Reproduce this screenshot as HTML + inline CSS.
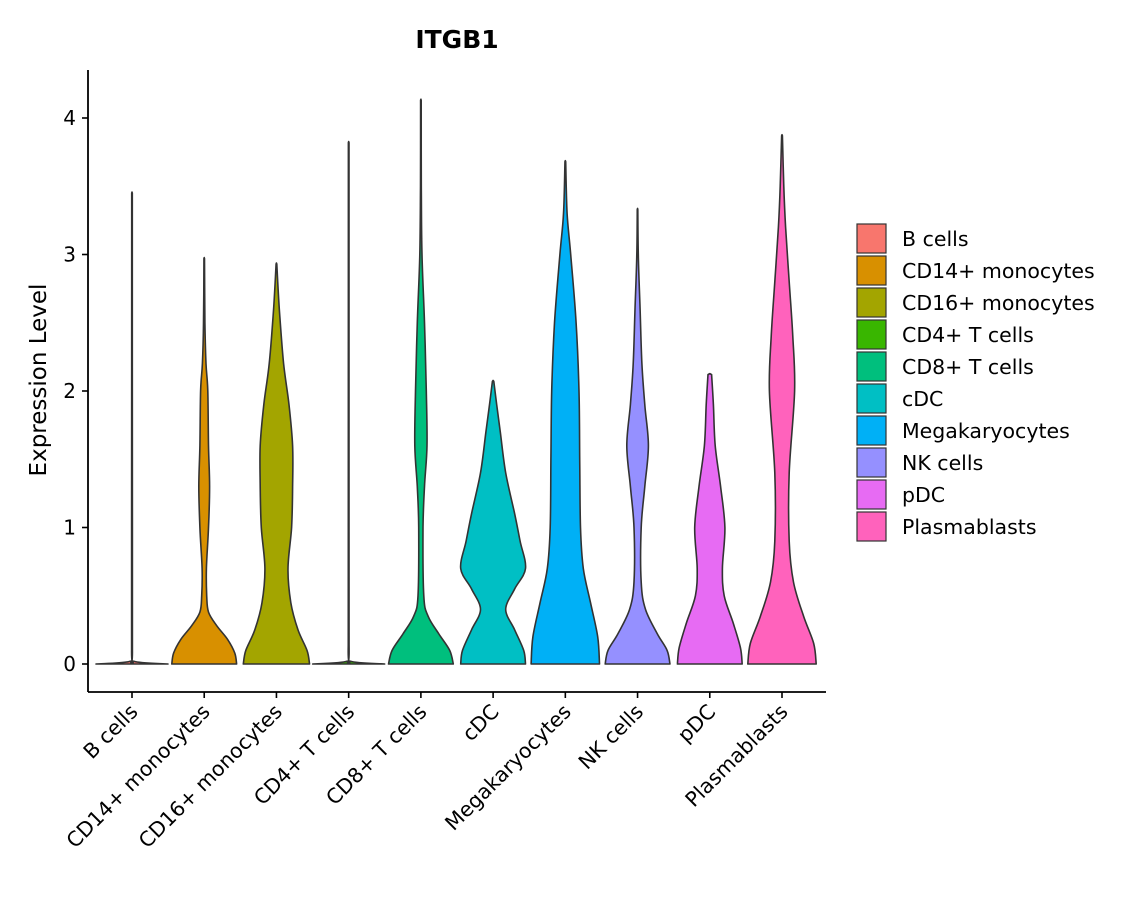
<!DOCTYPE html>
<html><head><meta charset="utf-8"><style>
html,body{margin:0;padding:0;background:#fff}
svg text{font-family:"DejaVu Sans","Liberation Sans",sans-serif;fill:#000}
</style></head><body>
<svg id="chart" width="1140" height="900" xmlns="http://www.w3.org/2000/svg">
<text x="457" y="48" text-anchor="middle" font-size="25" font-weight="bold">ITGB1</text>
<text transform="translate(46,380) rotate(-90)" text-anchor="middle" font-size="23">Expression Level</text>
<g id="plot"></g>
<g id="legend"></g>
</svg>
<script>
const categories=["B cells","CD14+ monocytes","CD16+ monocytes","CD4+ T cells","CD8+ T cells","cDC","Megakaryocytes","NK cells","pDC","Plasmablasts"];
const colors=["#F8766D","#D89000","#A3A500","#39B600","#00BF7D","#00BFC4","#00B0F6","#9590FF","#E76BF3","#FF62BC"];
const yTicks=[0,1,2,3,4];
const densB=[[0,1],[0.02,0.05],[0.1,0.012],[1,0.01],[3.45,0.008]];
const dens14=[[0,0.9],[0.08,0.85],[0.18,0.65],[0.28,0.35],[0.38,0.12],[0.5,0.07],[0.7,0.06],[1.0,0.12],[1.3,0.15],[1.6,0.12],[2.0,0.1],[2.2,0.05],[2.5,0.02],[2.97,0.008]];
const dens16=[[0,0.92],[0.1,0.85],[0.25,0.6],[0.45,0.4],[0.7,0.32],[1.0,0.42],[1.3,0.45],[1.6,0.45],[1.9,0.35],[2.2,0.2],[2.6,0.08],[2.93,0.01]];
const densCD4=[[0,1],[0.02,0.05],[0.1,0.012],[1,0.01],[3.82,0.008]];
const densCD8=[[0,0.9],[0.1,0.8],[0.22,0.5],[0.35,0.2],[0.5,0.08],[1.0,0.06],[1.3,0.1],[1.6,0.17],[2.0,0.15],[2.5,0.1],[3.0,0.03],[3.5,0.012],[4.13,0.008]];
const densCDC=[[0,0.9],[0.1,0.85],[0.25,0.6],[0.4,0.35],[0.55,0.6],[0.7,0.9],[0.9,0.75],[1.1,0.6],[1.4,0.35],[1.7,0.2],[1.9,0.1],[2.07,0.02]];
const densMK=[[0,0.95],[0.2,0.9],[0.45,0.7],[0.7,0.5],[1.0,0.42],[1.5,0.4],[2.0,0.38],[2.5,0.3],[3.0,0.15],[3.3,0.05],[3.68,0.01]];
const densNK=[[0,0.9],[0.1,0.82],[0.22,0.55],[0.4,0.22],[0.6,0.1],[1.0,0.1],[1.3,0.2],[1.6,0.3],[1.9,0.2],[2.2,0.12],[2.6,0.07],[3.0,0.02],[3.33,0.008]];
const densPDC=[[0,0.9],[0.12,0.85],[0.3,0.65],[0.5,0.4],[0.7,0.35],[1.0,0.42],[1.3,0.3],[1.6,0.15],[1.9,0.1],[2.12,0.05]];
const densPB=[[0,0.95],[0.15,0.88],[0.35,0.6],[0.6,0.32],[0.9,0.2],[1.4,0.2],[2.0,0.35],[2.4,0.3],[2.8,0.2],[3.2,0.1],[3.5,0.05],[3.87,0.01]];
const densities=[densB,dens14,dens16,densCD4,densCD8,densCDC,densMK,densNK,densPDC,densPB];

const NS="http://www.w3.org/2000/svg";
const X0=88,X1=826,Y0=664,PXU=136.5,halfMax=36;
function yScale(v){return Y0-v*PXU;}
function xScale(i){return 132+i*(782-132)/9;}
const plot=document.getElementById('plot');
function mk(t,a,p){const e=document.createElementNS(NS,t);for(const k in a)e.setAttribute(k,a[k]);(p||plot).appendChild(e);return e;}

function smooth(pts){let d="";for(let i=0;i<pts.length-1;i++){const p0=pts[Math.max(0,i-1)],p1=pts[i],p2=pts[i+1],p3=pts[Math.min(pts.length-1,i+2)];
const c1=[p1[0]+(p2[0]-p0[0])/6,p1[1]+(p2[1]-p0[1])/6],c2=[p2[0]-(p3[0]-p1[0])/6,p2[1]-(p3[1]-p1[1])/6];
d+=` C${c1[0].toFixed(1)},${c1[1].toFixed(1)} ${c2[0].toFixed(1)},${c2[1].toFixed(1)} ${p2[0].toFixed(1)},${p2[1].toFixed(1)}`;}return d;}

densities.forEach((dn,i)=>{
  const cx=xScale(i);
  const right=dn.map(p=>[cx+p[1]*halfMax,yScale(p[0])]);
  const left=dn.map(p=>[cx-p[1]*halfMax,yScale(p[0])]).reverse();
  const top=yScale(dn[dn.length-1][0]);
  let d=`M${cx-dn[0][1]*halfMax},${Y0} L${right[0][0]},${right[0][1]}`+smooth(right)+` L${cx},${top-1} L${left[0][0]},${left[0][1]}`+smooth(left)+" Z";
  const v=mk('path',{d:d,fill:colors[i],stroke:"#333",'stroke-width':1.6,'stroke-linejoin':'round'});
  
  
});

const ya=mk('line',{x1:X0,y1:70,x2:X0,y2:692,stroke:"#000",'stroke-width':1.8});

const xa=mk('line',{x1:X0,y1:692,x2:X1,y2:692,stroke:"#000",'stroke-width':1.8});


yTicks.forEach(t=>{
  const y=yScale(t);
  const tk=mk('line',{x1:X0-6,y1:y,x2:X0,y2:y,stroke:"#000",'stroke-width':1.6});
  
  const lb=mk('text',{x:X0-12,y:y+7,'text-anchor':'end','font-size':20});
  lb.textContent=t;
  
});
categories.forEach((c,i)=>{
  const x=xScale(i);
  const tk=mk('line',{x1:x,y1:692,x2:x,y2:698,stroke:"#000",'stroke-width':1.6});
  
  const lb=mk('text',{transform:`translate(${x+7},${713}) rotate(-45)`,'text-anchor':'end','font-size':20.5});
  lb.textContent=c;
  
});

const lg=document.getElementById('legend');
categories.forEach((c,i)=>{
  const y=224+i*32;
  const r=mk('rect',{x:857,y:y,width:29,height:29,fill:colors[i],stroke:"#333",'stroke-width':1.2},lg);
  
  const t=mk('text',{x:902,y:y+22,'font-size':20.5},lg);
  t.textContent=c;
  
});
</script>
</body></html>
